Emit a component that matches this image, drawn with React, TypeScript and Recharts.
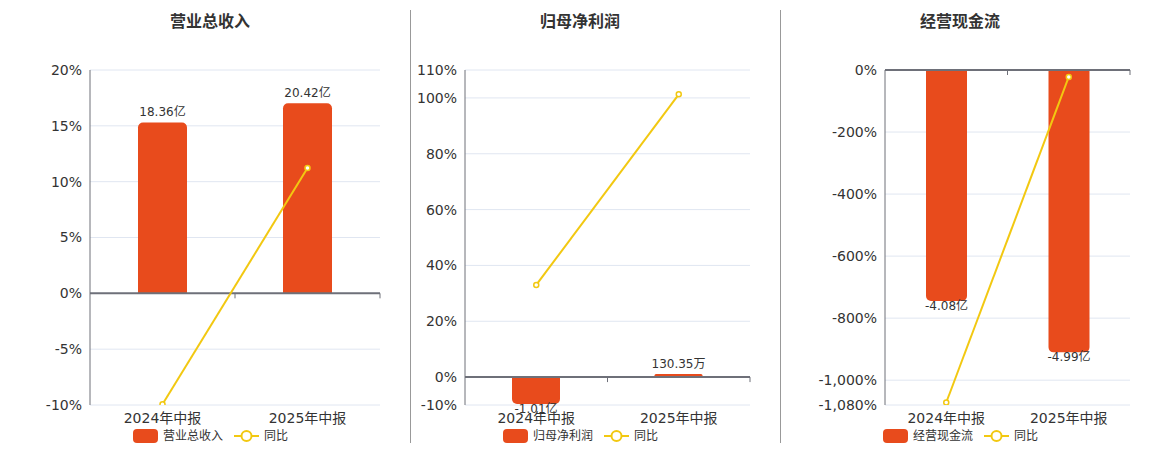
import React from "react";
import {
  ComposedChart,
  Bar,
  Line,
  XAxis,
  YAxis,
  CartesianGrid,
  ReferenceLine,
  LabelList,
} from "recharts";

const categories = ["2024年中报", "2025年中报"];

const revenueValues = [18.36, 20.42]; // 亿
const revenueYoy = [-9.93, 11.22]; // %
const revenueTicks = [-10, -5, 0, 5, 10, 15, 20];

const profitValues = [-1.01, 0.013035]; // 亿
const profitYoy = [33.0, 101.29];
const profitTicks = [-10, 0, 20, 40, 60, 80, 100, 110];

const cashValues = [-4.08, -4.99]; // 亿
const cashYoy = [-1072, -22.3];
const cashTicks = [-1080, -1000, -800, -600, -400, -200, 0];

const titles = ["营业总收入", "归母净利润", "经营现金流"];
const yoyName = "同比";

const BAR_COLOR = "#E84B1C";
const LINE_COLOR = "#F2C811";
const AXIS_COLOR = "#6E7079";
const GRID_COLOR = "#E0E6F1";
const TEXT_COLOR = "#333333";
const FONT = "'DejaVu Sans', Verdana, 'Noto Sans CJK SC', sans-serif";

const fmtAmount = (v: number) =>
  Math.abs(v) < 1 ? `${(v * 10000).toFixed(2)}万` : `${v.toFixed(2)}亿`;

const fmtPct = (v: number) => {
  const s = Math.abs(v).toLocaleString("en-US");
  return `${v < 0 ? "-" : ""}${s}%`;
};

const build = (vals: number[], yoy: number[]) =>
  categories.map((c, i) => ({ name: c, value: vals[i], yoy: yoy[i] }));

const ZeroAxis = (props: any) => {
  const { x1, x2, y1 } = props;
  const w = x2 - x1;
  return (
    <g>
      <line x1={x1} x2={x2} y1={y1} y2={y1} stroke={AXIS_COLOR} strokeWidth={2} />
      <line x1={x1 + w / 2} x2={x1 + w / 2} y1={y1} y2={y1 + 5} stroke={AXIS_COLOR} strokeWidth={1} />
      <line x1={x2} x2={x2} y1={y1} y2={y1 + 5} stroke={AXIS_COLOR} strokeWidth={1} />
    </g>
  );
};

const BarLabel = (props: any) => {
  const vb = props.viewBox || props;
  const x = Number(vb.x);
  const y = Number(vb.y);
  const w = Number(vb.width);
  const h = Number(vb.height);
  const v = Number(props.value);
  const top = Math.min(y, y + h);
  const bottom = Math.max(y, y + h);
  const cx = x + w / 2;
  const neg = v < 0;
  return (
    <text
      x={cx}
      y={neg ? bottom + 5 : top - 6}
      textAnchor="middle"
      dominantBaseline={neg ? "central" : "auto"}
      fill={TEXT_COLOR}
      fontSize={12}
      fontFamily={FONT}
    >
      {fmtAmount(v)}
    </text>
  );
};

type PanelProps = {
  left: number;
  width: number;
  yWidth: number;
  marginRight: number;
  data: any[];
  pctDomain: [number, number];
  pctTicks: number[];
  barDomain: [number, number];
  barSize: number;
};

const Panel = (p: PanelProps) => (
  <div style={{ position: "absolute", left: p.left, top: 0 }}>
    <ComposedChart
      width={p.width}
      height={450}
      data={p.data}
      margin={{ top: 70, right: p.marginRight, bottom: 15, left: 0 }}
      style={{ fontFamily: FONT }}
    >
      <CartesianGrid horizontal vertical={false} stroke={GRID_COLOR} yAxisId="pct" />
      <XAxis
        dataKey="name"
        axisLine={false}
        tickLine={false}
        height={30}
        interval={0}
        tick={{ fill: TEXT_COLOR, fontSize: 14, fontFamily: FONT }}
      />
      <YAxis
        yAxisId="pct"
        orientation="left"
        width={p.yWidth}
        domain={p.pctDomain}
        ticks={p.pctTicks}
        interval={0}
        allowDataOverflow
        tickLine={false}
        axisLine={{ stroke: AXIS_COLOR }}
        tickFormatter={fmtPct}
        tick={{ fill: TEXT_COLOR, fontSize: 14, fontFamily: FONT }}
      />
      <YAxis yAxisId="bar" orientation="right" hide width={0} domain={p.barDomain} allowDataOverflow />
      <Bar
        yAxisId="bar"
        dataKey="value"
        fill={BAR_COLOR}
        barSize={p.barSize}
        radius={[5, 5, 0, 0]}
        minPointSize={3}
        isAnimationActive={false}
      >
        <LabelList dataKey="value" content={BarLabel} />
      </Bar>
      <ReferenceLine yAxisId="pct" y={0} shape={ZeroAxis} />
      <Line
        yAxisId="pct"
        dataKey="yoy"
        stroke={LINE_COLOR}
        strokeWidth={2}
        dot={{ r: 2.5, fill: "#fff", stroke: LINE_COLOR, strokeWidth: 1.5 }}
        isAnimationActive={false}
      />
    </ComposedChart>
  </div>
);

const Title = ({ cx, text }: { cx: number; text: string }) => (
  <div
    style={{
      position: "absolute",
      left: cx - 100,
      width: 200,
      top: 12,
      textAlign: "center",
      fontFamily: FONT,
      fontWeight: "bold",
      fontSize: 16,
      color: TEXT_COLOR,
      lineHeight: "20px",
    }}
  >
    {text}
  </div>
);

const LegendBox = ({ cx, name }: { cx: number; name: string }) => (
  <div
    style={{
      position: "absolute",
      left: cx - 77,
      top: 428,
      display: "flex",
      alignItems: "center",
      fontFamily: FONT,
      fontSize: 12,
      color: TEXT_COLOR,
      whiteSpace: "nowrap",
      lineHeight: "16px",
    }}
  >
    <svg width={25} height={14} style={{ marginRight: 5 }}>
      <rect x={0} y={0} width={25} height={14} rx={4} ry={4} fill={BAR_COLOR} />
    </svg>
    <span style={{ marginRight: 11 }}>{name}</span>
    <svg width={25} height={14} style={{ marginRight: 5 }}>
      <line x1={0} x2={25} y1={7} y2={7} stroke={LINE_COLOR} strokeWidth={2} />
      <circle cx={12.5} cy={7} r={5} fill="#fff" stroke={LINE_COLOR} strokeWidth={2} />
    </svg>
    <span>{yoyName}</span>
  </div>
);

export default function App() {
  return (
    <div
      style={{
        position: "absolute",
        left: 0,
        top: 0,
        width: 1160,
        height: 450,
        background: "#fff",
        overflow: "hidden",
      }}
    >
      <Panel
        left={0}
        width={400}
        yWidth={90}
        marginRight={20}
        data={build(revenueValues, revenueYoy)}
        pctDomain={[-10, 20]}
        pctTicks={revenueTicks}
        barDomain={[-12, 24]}
        barSize={49}
      />
      <Panel
        left={410}
        width={370}
        yWidth={55}
        marginRight={30}
        data={build(profitValues, profitYoy)}
        pctDomain={[-10, 110]}
        pctTicks={profitTicks}
        barDomain={[-1.05, 11.55]}
        barSize={48}
      />
      <Panel
        left={780}
        width={380}
        yWidth={105}
        marginRight={30}
        data={build(cashValues, cashYoy)}
        pctDomain={[-1080, 0]}
        pctTicks={cashTicks}
        barDomain={[-5.92, 0]}
        barSize={41}
      />
      <div style={{ position: "absolute", left: 410, top: 10, width: 1, height: 433, background: "#999" }} />
      <div style={{ position: "absolute", left: 780, top: 10, width: 1, height: 433, background: "#999" }} />
      <Title cx={210} text={titles[0]} />
      <Title cx={580} text={titles[1]} />
      <Title cx={960} text={titles[2]} />
      <LegendBox cx={210} name={titles[0]} />
      <LegendBox cx={580} name={titles[1]} />
      <LegendBox cx={960} name={titles[2]} />
    </div>
  );
}
